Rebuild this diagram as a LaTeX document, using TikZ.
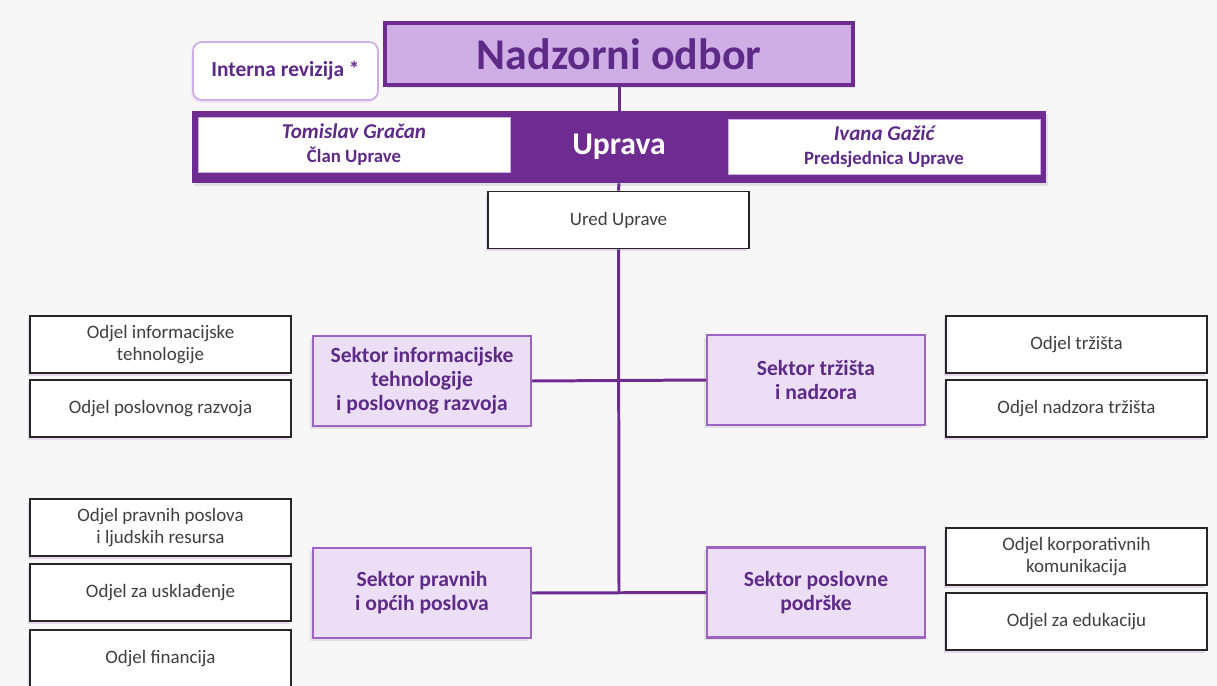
\documentclass[tikz,border=0pt]{standalone}
\usepackage{fontspec}
\setmainfont{Carlito}
\usetikzlibrary{shadows}

\definecolor{bgray}{HTML}{F7F7F7}
\definecolor{darkviolet}{HTML}{6E2C91}
\definecolor{textviolet}{HTML}{5E2A88}
\definecolor{lightviolet}{HTML}{CFAEE6}
\definecolor{paleviolet}{HTML}{ECDFF5}
\definecolor{midviolet}{HTML}{9D63C3}
\definecolor{odjelgray}{HTML}{3F3F3F}

\tikzset{
  sektor/.style={draw=midviolet, line width=1.2pt, fill=paleviolet, align=center,
    minimum width=4.36cm, minimum height=1.8cm, text=textviolet,
    font=\fontsize{12.3}{13.6}\selectfont\bfseries,
    drop shadow={shadow xshift=-1.5pt, shadow yshift=-1.5pt, fill=gray!40}},
  odjel/.style={draw=black!85, line width=1pt, fill=white, align=center,
    minimum width=5.22cm, minimum height=1.14cm, text=odjelgray,
    font=\fontsize{10.8}{12.1}\selectfont,
    drop shadow={shadow xshift=-1.2pt, shadow yshift=-1.5pt, fill=midviolet!45}},
  clan/.style={draw=lightviolet, line width=0.5pt, fill=white, align=center,
    minimum width=6.24cm, minimum height=1.1cm, text=textviolet},
  spoj/.style={draw=darkviolet, line width=1.7pt}
}

\begin{document}
\begin{tikzpicture}[x=0.02cm, y=-0.02cm]
  \fill[bgray] (0,0) rectangle (1217,686);
  \clip (0,0) rectangle (1217,686);

  % vrh
  \node[draw=darkviolet, line width=2.4pt, fill=lightviolet, minimum width=9.36cm,
    minimum height=1.24cm, text=textviolet, font=\fontsize{25}{28}\selectfont\bfseries,
    drop shadow={shadow xshift=1pt, shadow yshift=-1.5pt, fill=gray!40}]
    (nadzor) at (619,54) {Nadzorni odbor};
  \node[draw=lightviolet, line width=1pt, rounded corners=5pt, fill=white,
    minimum width=3.7cm, minimum height=1.16cm, text=textviolet,
    font=\fontsize{12.2}{14}\selectfont\bfseries,
    drop shadow={shadow xshift=-1pt, shadow yshift=-1.5pt, fill=lightviolet!60}]
    (revizija) at (285.5,71) {Interna revizija *};

  % uprava
  \node[fill=darkviolet, minimum width=17.08cm, minimum height=1.44cm, text=white,
    font=\fontsize{18}{20}\selectfont\bfseries,
    drop shadow={shadow xshift=1pt, shadow yshift=-1.5pt, fill=gray!40}]
    (uprava) at (619,147) {\raisebox{-2pt}{Uprava}};
  \node[clan] (clan) at (354,144.5)
    {{\fontsize{12}{14}\selectfont\bfseries\itshape Tomislav Gračan}\\[1.5pt]
     {\fontsize{10.7}{12}\selectfont\bfseries Član Uprave}};
  \node[clan] (predsj) at (884,146.5)
    {{\fontsize{12}{14}\selectfont\bfseries\itshape Ivana Gažić}\\[1.5pt]
     {\fontsize{10.7}{12}\selectfont\bfseries Predsjednica Uprave}};

  \node[odjel] (ured) at (618.5,220) {Ured Uprave};

  % sektori
  \node[sektor] (sit) at (422,381) {Sektor informacijske\\tehnologije\\i poslovnog razvoja};
  \node[sektor] (strz) at (816,380) {Sektor tržišta\\i nadzora};
  \node[sektor] (spra) at (422,593) {Sektor pravnih\\i općih poslova};
  \node[sektor] (spos) at (816,592.5) {Sektor poslovne\\podrške};

  % odjeli lijevo
  \node[odjel] (oit) at (160.5,344.5) {Odjel informacijske\\tehnologije};
  \node[odjel] (orazvoj) at (160.5,408.5) {Odjel poslovnog razvoja};
  \node[odjel] (opravni) at (160.5,527.5) {Odjel pravnih poslova\\i ljudskih resursa};
  \node[odjel] (ouskl) at (160.5,592.5) {Odjel za usklađenje};
  \node[odjel] (ofin) at (160.5,658.5) {Odjel financija};

  % odjeli desno
  \node[odjel] (otrz) at (1076.5,344.5) {Odjel tržišta};
  \node[odjel] (onadz) at (1076.5,408.5) {Odjel nadzora tržišta};
  \node[odjel] (okorp) at (1076.5,556.5) {Odjel korporativnih\\komunikacija};
  \node[odjel] (oedu) at (1076.5,621.5) {Odjel za edukaciju};

  % spojevi
  \coordinate (dno) at (619,593);
  \draw[spoj] (nadzor.south) -- (uprava.north);
  \draw[spoj] (uprava.south) -- (ured.north);
  \draw[spoj] (ured.south) -- (dno);
  \draw[spoj] (sit.east) -- (strz.west);
  \draw[spoj] (spra.east) -- (spos.west);
\end{tikzpicture}
\end{document}
